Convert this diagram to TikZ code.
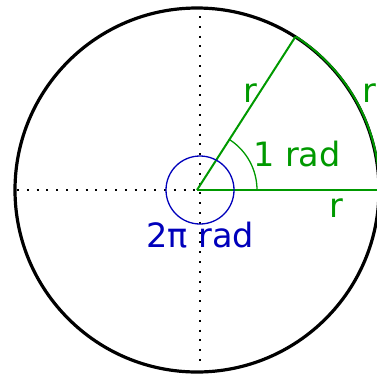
\documentclass[tikz,border=0pt]{standalone}
\usepackage{fontspec}
\setmainfont{DejaVu Sans}
\usepackage{tikz}
\usetikzlibrary{calc}
\definecolor{radgreen}{RGB}{0,153,0}
\definecolor{radblue}{RGB}{0,0,187}

\begin{document}
\begin{tikzpicture}[x=1pt, y=-1pt, font=\fontsize{33.5}{40}\selectfont,
	axis/.style={line width=2pt, dash pattern=on 2pt off 7.8pt, black},
	radius line/.style={radgreen, line width=2pt},
	label/.style={inner sep=0pt, text=radgreen}]
				\useasboundingbox (0,0) rectangle (377,373);
				\clip (0,0) rectangle (377,373);
				
				\coordinate (O) at (197,190);
				\coordinate (C) at (200,190);
				\coordinate (A) at ($(O)+(57.2958:182 and -182)$);
				\coordinate (B) at ($(O)+(182,0)$);
				\coordinate (top) at (200,16);
				\coordinate (bottom) at (200,366);
				\coordinate (left) at (17,190);
				\coordinate (right) at (377,190);
				
				\draw[axis] (top) -- (bottom);
				\draw[axis] (left) -- (right);
				
				\draw[line width=3.2pt] (O) circle (182);
				
				\draw[radius line] (O) -- (A);
				\draw[radius line] (O) -- (B);
				\draw[radius line] ($(O)+(182.5,0)$) arc[start angle=0, end angle=-57.2958, radius=182.5];
				\draw[radgreen, line width=1.3pt] ($(O)+(60,0)$) arc[start angle=0, end angle=-57.2958, radius=60];
				
				\draw[radblue, line width=1.3pt] (C) circle (34);
				
				\node[label] (rray) at (250,93) {r};
				\node[label] (rarc) at (369.5,93) {r};
				\node[label] (rbase) at (336,208) {r};
				\node[label] (one) at (297,154) {1 rad};
				\node[label, text=radblue] (full) at (200,235) {2π rad};
			\end{tikzpicture}
\end{document}
